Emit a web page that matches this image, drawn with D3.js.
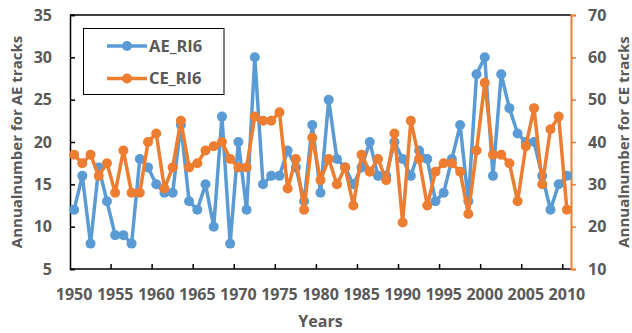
<!DOCTYPE html>
<html>
<head>
<meta charset="utf-8">
<script src="https://cdn.jsdelivr.net/npm/d3@7"></script>
<style>
  html, body { margin: 0; padding: 0; background: #fff; }
  svg { display: block; }
  text { font-family: "Open Sans", "Liberation Sans", sans-serif; font-weight: 700; fill: #595959; }
</style>
</head>
<body>
<svg id="chart" width="632" height="333"></svg>
<script>
// Years on the category axis
const years = d3.range(1950, 2011);

// Annual number of AE tracks (left axis)
const aeValues = [12, 16, 8, 17, 13, 9, 9, 8, 18, 17,
                  15, 14, 14, 22, 13, 12, 15, 10, 23, 8,
                  20, 12, 30, 15, 16, 16, 19, 17, 13, 22,
                  14, 25, 18, 17, 15, 17, 20, 16, 16, 20,
                  18, 16, 19, 18, 13, 14, 18, 22, 13, 28,
                  30, 16, 28, 24, 21, 20, 20, 16, 12, 15, 16];

// Annual number of CE tracks (right axis)
const ceValues = [37, 35, 37, 32, 35, 28, 38, 28, 28, 40,
                  42, 29, 34, 45, 34, 35, 38, 39, 40, 36,
                  34, 34, 46, 45, 45, 47, 29, 36, 24, 41,
                  31, 36, 30, 34, 25, 37, 33, 36, 31, 42,
                  21, 45, 36, 25, 33, 35, 35, 33, 23, 38,
                  54, 37, 37, 35, 26, 39, 48, 30, 43, 46, 24];

const yearTicks = [1950, 1955, 1960, 1965, 1970, 1975, 1980, 1985, 1990, 1995, 2000, 2005, 2010];
const leftTicks = [5, 10, 15, 20, 25, 30, 35];
const rightTicks = [10, 20, 30, 40, 50, 60, 70];

const seriesNames = ["AE_RI6", "CE_RI6"];
const colors = ["#5B9BD5", "#ED7D31"];

const svg = d3.select("#chart");
const plot = { left: 70, right: 571, top: 15, bottom: 269 };

const x = d3.scaleBand().domain(years).range([plot.left, plot.right]).padding(0);
const cx = yr => x(yr) + x.bandwidth() / 2;
const yL = d3.scaleLinear().domain([5, 35]).range([plot.bottom, plot.top]);
const yR = d3.scaleLinear().domain([10, 70]).range([plot.bottom, plot.top]);

// Top border of the plot area
svg.append("line")
  .attr("x1", plot.left).attr("x2", plot.right).attr("y1", plot.top).attr("y2", plot.top)
  .attr("stroke", "#000").attr("stroke-width", 1.5);

// Bottom category axis: ticks on category boundaries every 5 years, pointing inward
const gx = svg.append("g");
gx.append("line")
  .attr("x1", plot.left).attr("x2", plot.right).attr("y1", plot.bottom).attr("y2", plot.bottom)
  .attr("stroke", "#000").attr("stroke-width", 1.5);
gx.selectAll("line.tk")
  .data(years.filter((d, i) => i > 0 && i % 5 === 0))
  .join("line").attr("class", "tk")
  .attr("x1", d => x(d)).attr("x2", d => x(d))
  .attr("y1", plot.bottom).attr("y2", plot.bottom - 5)
  .attr("stroke", "#000").attr("stroke-width", 1.5);
gx.selectAll("text")
  .data(yearTicks)
  .join("text")
  .attr("x", d => cx(d)).attr("y", 299.5)
  .attr("text-anchor", "middle")
  .attr("font-size", 16)
  .text(d => d);

// Left value axis
const axL = d3.axisRight(yL).tickValues(leftTicks).tickSize(5).tickFormat("");
const gl = svg.append("g").attr("transform", `translate(${plot.left},0)`).call(axL);
gl.select(".domain").attr("stroke", "#000").attr("stroke-width", 1.5);
gl.selectAll(".tick line").attr("stroke", "#000").attr("stroke-width", 1.5);
svg.append("g").selectAll("text")
  .data(leftTicks).join("text")
  .attr("x", 52).attr("y", d => yL(d)).attr("dy", "0.36em")
  .attr("text-anchor", "end").attr("font-size", 16)
  .text(d => d);

// Right value axis
const axR = d3.axisRight(yR).tickValues(rightTicks).tickSize(5).tickFormat("");
const gr = svg.append("g").attr("transform", `translate(${plot.right},0)`).call(axR);
gr.select(".domain").attr("stroke", colors[1]).attr("stroke-width", 2);
gr.selectAll(".tick line").attr("stroke", colors[1]).attr("stroke-width", 1.5);
svg.append("g").selectAll("text")
  .data(rightTicks).join("text")
  .attr("x", 588).attr("y", d => yR(d)).attr("dy", "0.36em")
  .attr("text-anchor", "start").attr("font-size", 16)
  .text(d => d);

// Axis titles
svg.append("text")
  .attr("transform", `translate(22,${(plot.top + plot.bottom) / 2}) rotate(-90)`)
  .attr("text-anchor", "middle").attr("font-size", 15)
  .text("Annualnumber for AE tracks");
svg.append("text")
  .attr("transform", `translate(629,${(plot.top + plot.bottom) / 2}) rotate(-90)`)
  .attr("text-anchor", "middle").attr("font-size", 15)
  .text("Annualnumber for CE tracks");
svg.append("text")
  .attr("x", (plot.left + plot.right) / 2).attr("y", 327)
  .attr("text-anchor", "middle").attr("font-size", 16)
  .text("Years");

// Series lines and markers
const series = [
  { name: seriesNames[0], values: aeValues, y: yL, color: colors[0] },
  { name: seriesNames[1], values: ceValues, y: yR, color: colors[1] }
];
series.forEach(s => {
  const pts = years.map((yr, i) => [cx(yr), s.y(s.values[i])]);
  svg.append("path")
    .attr("d", d3.line()(pts))
    .attr("fill", "none").attr("stroke", s.color)
    .attr("stroke-width", 3.5).attr("stroke-linejoin", "round");
  svg.append("g").selectAll("circle")
    .data(pts).join("circle")
    .attr("cx", d => d[0]).attr("cy", d => d[1]).attr("r", 5)
    .attr("fill", s.color);
});

// Legend
const lg = svg.append("g");
lg.append("rect")
  .attr("x", 83.5).attr("y", 28.5).attr("width", 140.5).attr("height", 66)
  .attr("fill", "#fff").attr("stroke", "#000").attr("stroke-width", 1);
series.forEach((s, i) => {
  const ly = 46 + i * 32.5;
  lg.append("line").attr("x1", 107).attr("x2", 147).attr("y1", ly).attr("y2", ly)
    .attr("stroke", s.color).attr("stroke-width", 3.5);
  lg.append("circle").attr("cx", 127).attr("cy", ly).attr("r", 5).attr("fill", s.color);
  lg.append("text").attr("x", 149).attr("y", ly).attr("dy", "0.36em")
    .attr("font-size", 16.5).text(s.name);
});
</script>
</body>
</html>
